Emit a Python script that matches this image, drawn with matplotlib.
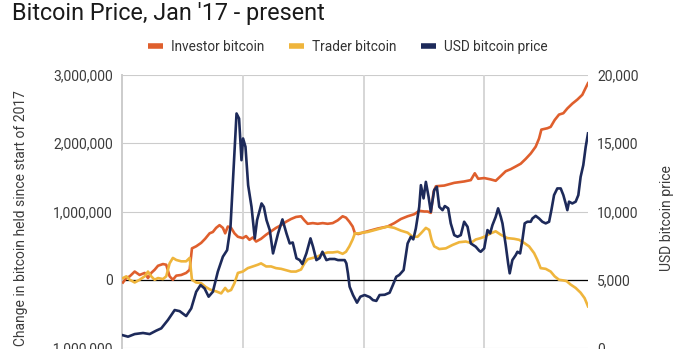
import numpy as np
import matplotlib
matplotlib.use("Agg")
import matplotlib.pyplot as plt
from matplotlib.lines import Line2D
from matplotlib.ticker import FuncFormatter

plt.rcParams['font.family'] = ['Roboto', 'DejaVu Sans']

# Weekly readings, time as decimal year
price_t = [2017.000, 2017.050, 2017.105, 2017.174, 2017.229, 2017.283, 2017.325, 2017.380, 2017.436, 2017.477,
           2017.531, 2017.573, 2017.614, 2017.650, 2017.683, 2017.717, 2017.752, 2017.793, 2017.835, 2017.870,
           2017.898, 2017.917, 2017.948, 2017.969, 2017.989, 2018.002, 2018.022, 2018.044, 2018.072, 2018.099,
           2018.118, 2018.155, 2018.174, 2018.196, 2018.223, 2018.250, 2018.292, 2018.328, 2018.361, 2018.388,
           2018.413, 2018.444, 2018.471, 2018.493, 2018.526, 2018.560, 2018.581, 2018.609, 2018.636, 2018.659,
           2018.692, 2018.719, 2018.760, 2018.788, 2018.843, 2018.857, 2018.870, 2018.884, 2018.912, 2018.945,
           2018.973, 2019.008, 2019.050, 2019.077, 2019.105, 2019.132, 2019.174, 2019.215, 2019.242, 2019.270,
           2019.295, 2019.331, 2019.364, 2019.391, 2019.411, 2019.432, 2019.460, 2019.474, 2019.496, 2019.515,
           2019.537, 2019.556, 2019.584, 2019.606, 2019.626, 2019.653, 2019.672, 2019.700, 2019.721, 2019.750,
           2019.777, 2019.804, 2019.832, 2019.860, 2019.887, 2019.928, 2019.956, 2019.969, 2019.998, 2020.025,
           2020.047, 2020.066, 2020.093, 2020.113, 2020.135, 2020.149, 2020.176, 2020.196, 2020.209, 2020.231,
           2020.259, 2020.273, 2020.295, 2020.314, 2020.333, 2020.355, 2020.383, 2020.397, 2020.424, 2020.452,
           2020.479, 2020.507, 2020.535, 2020.554, 2020.576, 2020.603, 2020.631, 2020.653, 2020.672, 2020.686,
           2020.700, 2020.727, 2020.755, 2020.777, 2020.796, 2020.818, 2020.838, 2020.857]
price_usd = [950, 830, 1020, 1100, 1020, 1270, 1440, 2050, 2780, 2700,
             2340, 2900, 4120, 4610, 4370, 3760, 4120, 5590, 6690, 7170,
             8880, 12060, 17180, 16810, 13760, 15350, 14740, 11930, 10340, 8030,
             9370, 10590, 10340, 9370, 8640, 6930, 8400, 9420, 8400, 7660,
             7730, 6570, 6440, 6150, 6930, 8030, 7420, 6440, 6590, 7050,
             6440, 6520, 6520, 6440, 6440, 6200, 5470, 4490, 3880, 3320,
             3760, 3880, 3730, 3510, 3450, 3880, 3900, 4050, 4610, 5220,
             5350, 5710, 7660, 8150, 7960, 8760, 10340, 11930, 10960, 12170,
             11100, 9980, 11570, 11810, 10340, 10100, 10400, 10230, 9130, 8270,
             8150, 8270, 9250, 8880, 7660, 7420, 7130, 7050, 7300, 8640,
             8400, 9000, 9610, 10230, 9610, 9130, 7540, 6200, 5470, 6440,
             6810, 7050, 6930, 7910, 9130, 9250, 9250, 9490, 9680, 9490,
             9250, 9130, 9250, 10100, 11200, 11690, 11690, 11200, 10590, 10100,
             10720, 10590, 10720, 11200, 12540, 13400, 14740, 15720]

investor_t = [2017.008, 2017.036, 2017.064, 2017.105, 2017.146, 2017.188, 2017.215, 2017.242, 2017.270, 2017.298,
              2017.339, 2017.366, 2017.394, 2017.421, 2017.449, 2017.490, 2017.531, 2017.560, 2017.579, 2017.614,
              2017.655, 2017.688, 2017.725, 2017.752, 2017.779, 2017.807, 2017.835, 2017.854, 2017.876, 2017.903,
              2017.931, 2017.959, 2018.000, 2018.027, 2018.055, 2018.083, 2018.110, 2018.151, 2018.193, 2018.234,
              2018.275, 2018.317, 2018.358, 2018.399, 2018.440, 2018.482, 2018.510, 2018.537, 2018.579, 2018.620,
              2018.661, 2018.702, 2018.744, 2018.785, 2018.826, 2018.854, 2018.882, 2018.909, 2018.928, 2018.956,
              2018.992, 2019.033, 2019.116, 2019.198, 2019.254, 2019.308, 2019.364, 2019.419, 2019.460, 2019.502,
              2019.529, 2019.556, 2019.579, 2019.598, 2019.667, 2019.750, 2019.832, 2019.887, 2019.920, 2019.948,
              2019.998, 2020.052, 2020.093, 2020.135, 2020.176, 2020.217, 2020.259, 2020.300, 2020.341, 2020.383,
              2020.424, 2020.452, 2020.471, 2020.521, 2020.548, 2020.581, 2020.617, 2020.653, 2020.686, 2020.727,
              2020.769, 2020.810, 2020.829, 2020.857]
investor_mbtc = [-0.04, 0.025, 0.05, 0.12, 0.07, 0.10, 0.025, 0.10, 0.146, 0.205,
                 0.23, 0.22, 0.05, 0.00, 0.06, 0.07, 0.10, 0.146, 0.46, 0.49,
                 0.54, 0.60, 0.68, 0.70, 0.76, 0.80, 0.76, 0.68, 0.78, 0.76,
                 0.68, 0.63, 0.61, 0.64, 0.585, 0.62, 0.56, 0.60, 0.66, 0.71,
                 0.76, 0.80, 0.85, 0.89, 0.92, 0.93, 0.87, 0.82, 0.83, 0.82,
                 0.83, 0.82, 0.83, 0.87, 0.93, 0.91, 0.85, 0.78, 0.68, 0.67,
                 0.69, 0.71, 0.75, 0.78, 0.83, 0.89, 0.93, 0.96, 1.01, 1.00,
                 1.00, 0.98, 1.29, 1.37, 1.38, 1.42, 1.44, 1.46, 1.56, 1.48,
                 1.49, 1.47, 1.45, 1.52, 1.59, 1.62, 1.66, 1.70, 1.77, 1.85,
                 1.95, 2.07, 2.20, 2.22, 2.24, 2.34, 2.42, 2.44, 2.51, 2.58,
                 2.64, 2.71, 2.78, 2.88]

trader_t = [2017.008, 2017.036, 2017.064, 2017.105, 2017.146, 2017.188, 2017.215, 2017.242, 2017.270, 2017.298,
            2017.339, 2017.366, 2017.394, 2017.421, 2017.449, 2017.490, 2017.531, 2017.560, 2017.579, 2017.614,
            2017.655, 2017.688, 2017.725, 2017.752, 2017.779, 2017.821, 2017.854, 2017.876, 2017.903, 2017.931,
            2017.959, 2018.000, 2018.041, 2018.083, 2018.124, 2018.151, 2018.193, 2018.234, 2018.275, 2018.317,
            2018.358, 2018.399, 2018.440, 2018.482, 2018.510, 2018.537, 2018.579, 2018.620, 2018.661, 2018.702,
            2018.744, 2018.785, 2018.826, 2018.854, 2018.882, 2018.909, 2018.928, 2018.956, 2018.992, 2019.033,
            2019.116, 2019.198, 2019.254, 2019.308, 2019.364, 2019.405, 2019.446, 2019.474, 2019.515, 2019.543,
            2019.562, 2019.584, 2019.626, 2019.680, 2019.736, 2019.791, 2019.845, 2019.887, 2019.928, 2019.969,
            2019.998, 2020.052, 2020.093, 2020.135, 2020.190, 2020.245, 2020.287, 2020.328, 2020.369, 2020.411,
            2020.438, 2020.465, 2020.507, 2020.548, 2020.581, 2020.617, 2020.653, 2020.680, 2020.713, 2020.755,
            2020.796, 2020.829, 2020.857]
trader_mbtc = [0.025, 0.05, 0.00, -0.04, 0.00, 0.05, 0.12, 0.05, 0.00, 0.025,
               0.01, 0.05, 0.24, 0.32, 0.29, 0.27, 0.27, 0.32, 0.00, -0.04,
               -0.05, -0.10, -0.14, -0.16, -0.17, -0.20, -0.12, -0.17, -0.15, -0.05,
               0.10, 0.12, 0.17, 0.195, 0.22, 0.24, 0.195, 0.195, 0.17, 0.16,
               0.14, 0.12, 0.12, 0.15, 0.24, 0.30, 0.32, 0.34, 0.38, 0.40,
               0.40, 0.41, 0.38, 0.41, 0.49, 0.59, 0.68, 0.68, 0.69, 0.70,
               0.74, 0.78, 0.76, 0.72, 0.69, 0.63, 0.63, 0.68, 0.76, 0.73,
               0.585, 0.49, 0.45, 0.46, 0.51, 0.55, 0.56, 0.54, 0.59, 0.61,
               0.63, 0.68, 0.71, 0.66, 0.61, 0.60, 0.585, 0.54, 0.49, 0.39,
               0.29, 0.17, 0.16, 0.12, 0.05, 0.00, -0.01, -0.02, -0.07, -0.12,
               -0.19, -0.27, -0.39]

left_ticks = [-1000000, 0, 1000000, 2000000, 3000000]
right_ticks = [0, 5000, 10000, 15000, 20000]
year_lines = [2018, 2019, 2020]

INVESTOR = '#df5f2d'
TRADER = '#efb53c'
PRICE = '#1d2a5a'
TEXT = '#3c3c3c'

W, H = 682, 349
fig = plt.figure(figsize=(W / 100, H / 100), dpi=100)
ax = fig.add_axes([122 / W, 1 - 348 / H, 466 / W, 273 / H])
ax2 = ax.twinx()

ax.set_xlim(2017.0, 2020.857)
ax.set_ylim(left_ticks[0], left_ticks[-1])
ax2.set_ylim(right_ticks[0], right_ticks[-1])

# grid
for v in left_ticks:
    ax.axhline(v, color='#cccccc', lw=0.8, zorder=0)
for yr in year_lines:
    ax.axvline(yr, color='#d6d6d6', lw=1.4, zorder=0)
ax.axhline(0, color='black', lw=0.9, zorder=1)

ax.plot(investor_t, np.array(investor_mbtc) * 1e6, color=INVESTOR, lw=1.9, zorder=3)
ax.plot(trader_t, np.array(trader_mbtc) * 1e6, color=TRADER, lw=1.9, zorder=3)
ax2.plot(price_t, price_usd, color=PRICE, lw=1.9, zorder=4)

fmt = FuncFormatter(lambda v, p: f"{int(v):,}")
ax.set_yticks(left_ticks)
ax.yaxis.set_major_formatter(fmt)
ax2.set_yticks(right_ticks)
ax2.yaxis.set_major_formatter(fmt)
ax.set_xticks([])
for a in (ax, ax2):
    a.tick_params(axis='y', length=0, pad=6.5, labelsize=10, labelcolor=TEXT)
    for side in ('top', 'right', 'bottom'):
        a.spines[side].set_visible(False)
ax.spines['left'].set_color('#cccccc')
ax.spines['left'].set_linewidth(1.4)
ax2.spines['left'].set_visible(False)
ax.patch.set_visible(False)

fig.text(21 / W, 1 - 218 / H, "Change in bitcoin held since start of 2017", rotation=90,
         ha='center', va='center', fontsize=10, color=TEXT)
fig.text(667 / W, 1 - 218 / H, "USD bitcoin price", rotation=90,
         ha='center', va='center', fontsize=10, color=TEXT)

fig.text(12 / W, 1 - 20 / H, "Bitcoin Price, Jan '17 - present", fontsize=16.8,
         color='#1a1a1a', ha='left', va='baseline')

handles = [Line2D([], [], color=INVESTOR, lw=4, solid_capstyle='butt'),
           Line2D([], [], color=TRADER, lw=4, solid_capstyle='butt'),
           Line2D([], [], color=PRICE, lw=4, solid_capstyle='butt')]
fig.legend(handles, ["Investor bitcoin", "Trader bitcoin", "USD bitcoin price"],
           loc='center', bbox_to_anchor=(348 / W, 1 - 47 / H), ncol=3, frameon=False,
           fontsize=9.8, handlelength=1.1, handletextpad=0.6, columnspacing=1.8,
           labelcolor='#333333')

fig.savefig("out.png", dpi=100)
